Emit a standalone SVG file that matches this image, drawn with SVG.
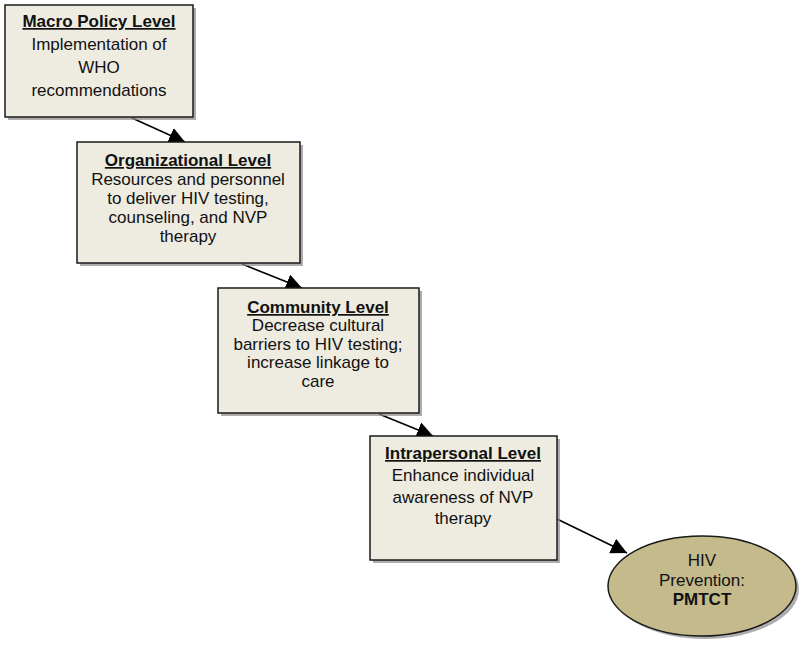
<svg xmlns="http://www.w3.org/2000/svg" width="800" height="653" viewBox="0 0 800 653">
<defs>
<marker id="ah" viewBox="0 0 10 10" refX="10" refY="5" markerWidth="16" markerHeight="16" markerUnits="userSpaceOnUse" orient="auto">
<path d="M0,0 L10,5 L0,10 z" fill="#000"/>
</marker>
<style>
.box{fill:#EEECE1;stroke:#1a1a1a;stroke-width:1.5}
.sh{fill:#8a8a8a;opacity:0.7}
.t{font-family:"Liberation Sans",Arial,sans-serif;font-size:17px;fill:#111;text-anchor:middle}
.h{font-weight:bold;text-decoration:underline}
.ln{stroke:#000;stroke-width:1.6;fill:none}
</style>
</defs>
<rect width="800" height="653" fill="#fff"/>
<g id="connectors">
<line class="ln" x1="132" y1="118" x2="185" y2="142" marker-end="url(#ah)"/>
<line class="ln" x1="242" y1="264" x2="302" y2="288" marker-end="url(#ah)"/>
<line class="ln" x1="379" y1="414" x2="433" y2="436" marker-end="url(#ah)"/>
<line class="ln" x1="557" y1="519" x2="627" y2="553" marker-end="url(#ah)"/>
</g>
<g id="macro">
<rect class="sh" x="8" y="8" width="188" height="112"/>
<rect class="box" x="5" y="5" width="188" height="112"/>
<text class="t h" x="99" y="27">Macro Policy Level</text>
<text class="t" x="99" y="50">Implementation of</text>
<text class="t" x="99" y="73">WHO</text>
<text class="t" x="99" y="96">recommendations</text>
</g>
<g id="organizational">
<rect class="sh" x="80" y="145" width="223" height="121"/>
<rect class="box" x="77" y="142" width="223" height="121"/>
<text class="t h" x="188" y="166">Organizational Level</text>
<text class="t" x="188" y="185">Resources and personnel</text>
<text class="t" x="188" y="204">to deliver HIV testing,</text>
<text class="t" x="188" y="223">counseling, and NVP</text>
<text class="t" x="188" y="242">therapy</text>
</g>
<g id="community">
<rect class="sh" x="221" y="291" width="201" height="125"/>
<rect class="box" x="218" y="288" width="201" height="125"/>
<text class="t h" x="318" y="313">Community Level</text>
<text class="t" x="318" y="331">Decrease cultural</text>
<text class="t" x="318" y="350">barriers to HIV testing;</text>
<text class="t" x="318" y="368">increase linkage to</text>
<text class="t" x="318" y="387">care</text>
</g>
<g id="intrapersonal">
<rect class="sh" x="373" y="439" width="187" height="124"/>
<rect class="box" x="370" y="436" width="187" height="124"/>
<text class="t h" x="463" y="459">Intrapersonal Level</text>
<text class="t" x="463" y="481">Enhance individual</text>
<text class="t" x="463" y="503">awareness of NVP</text>
<text class="t" x="463" y="524">therapy</text>
</g>
<g id="hiv">
<ellipse cx="705" cy="589" rx="94" ry="50" fill="#8a8a8a" opacity="0.7"/>
<ellipse cx="702" cy="586" rx="94" ry="50" fill="#C4BA8C" stroke="#1a1a1a" stroke-width="1.5"/>
<text class="t" x="702" y="566">HIV</text>
<text class="t" x="702" y="586">Prevention:</text>
<text class="t" x="702" y="605" font-weight="bold">PMTCT</text>
</g>
</svg>
